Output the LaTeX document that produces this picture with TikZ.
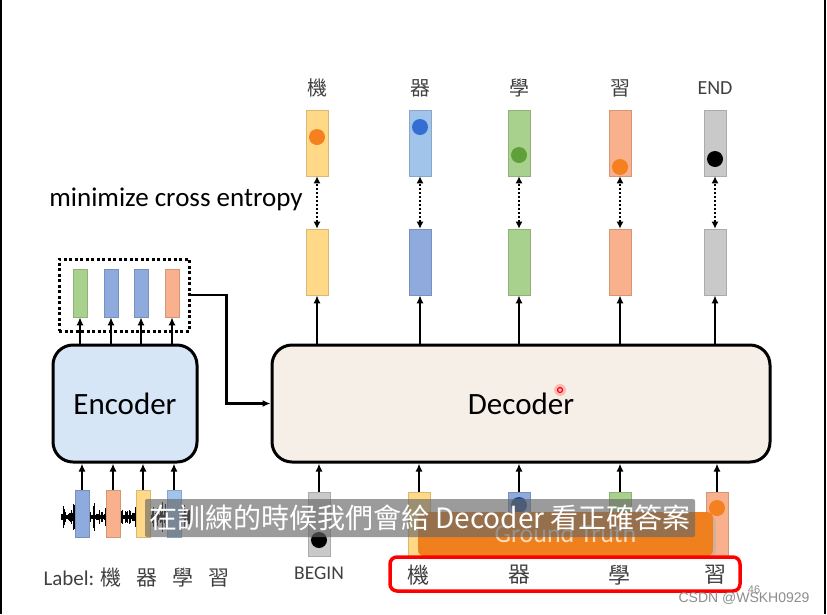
\documentclass[tikz,border=0pt]{standalone}
\usepackage{fontspec}
\setmainfont{Carlito}
\newfontfamily\cjk{Noto Sans CJK TC}
\newfontfamily\wmark{Liberation Sans}
\usetikzlibrary{arrows.meta}
\definecolor{vyellow}{RGB}{255,217,135}
\definecolor{vblue}{RGB}{160,196,234}
\definecolor{vbluemid}{RGB}{143,170,220}
\definecolor{vgreen}{RGB}{169,209,142}
\definecolor{vorange}{RGB}{248,177,140}
\definecolor{vgray}{RGB}{201,201,201}
\definecolor{dorange}{RGB}{244,128,32}
\definecolor{dblue}{RGB}{52,110,210}
\definecolor{dgreen}{RGB}{96,160,58}
\definecolor{encblue}{RGB}{214,230,246}
\definecolor{decbeige}{RGB}{246,239,231}
\definecolor{gtorange}{RGB}{240,128,30}
\definecolor{labgray}{RGB}{64,64,64}
\tikzset{
VEC/.style ={draw=#1!85!black,fill=#1,line width=0.6pt,inner sep=0pt,minimum width=22pt,minimum height=66pt},
SVEC/.style={draw=#1!85!black,fill=#1,line width=0.6pt,inner sep=0pt,minimum width=14pt,minimum height=48pt},
DOT/.style ={circle,fill=#1,inner sep=0pt,minimum size=16pt},
BLOCK/.style={draw=black,line width=3pt,rounded corners=20pt,font=\fontsize{31}{36}\selectfont},
ARROW/.style={line width=2.2pt,-{Latex[length=8pt,width=7pt]}},
XENT/.style={line width=2pt,dash pattern=on 2pt off 2pt,{Latex[length=7pt,width=7pt]}-{Latex[length=7pt,width=7pt]}},
LABEL/.style={text=labgray,font=\cjk\fontsize{20}{24}\selectfont},
WAVE/.style={line width=0.8pt,black},
}
\begin{document}
\begin{tikzpicture}[x=1pt, y=-1pt]
	\useasboundingbox (0,0) rectangle (827,614);
	\draw[line width=2pt] (1,0) -- (1,614) (825,0) -- (825,614);
	\node[BLOCK, fill=encblue, minimum width=144pt, minimum height=117pt] (enc) at (125,403.5) {Encoder};
	\node[BLOCK, fill=decbeige, minimum width=498pt, minimum height=117pt] (dec) at (521,403.5) {Decoder};
	\fill[red!40, opacity=.6] (560,390) circle (6);
	\draw[red, line width=1.2pt] (560,390) circle (2.5);
	% targets and decoder outputs
	\foreach \i/\x/\c/\m/\t/\dc/\dy in {1/317/vyellow/vyellow/{\cjk 機}/dorange/137,
		2/420/vblue/vbluemid/{\cjk 器}/dblue/127,
		3/519/vgreen/vgreen/{\cjk 學}/dgreen/155,
		4/620/vorange/vorange/{\cjk 習}/dorange/167,
		5/715/vgray/vgray/END/black/159} {
		\node[LABEL, font=\fontsize{20}{24}\selectfont] (lab\i) at (\x,88) {\t};
		\node[VEC=\c] (tgt\i) at (\x,143) {};
		\node[DOT=\dc] (dot\i) at (\x,\dy) {};
		\node[VEC=\m] (out\i) at (\x,262) {};
		\draw[XENT] (out\i.north) -- (tgt\i.south);
		\draw[ARROW] (out\i.south |- dec.north) -- (out\i.south);
	}
	\node[font=\fontsize{27}{32}\selectfont] (xent) at (176,199) {minimize cross entropy};
	% encoder side
	\pgfmathsetseed{7}
	\foreach \k in {0,...,160} {
		\pgfmathsetmacro{\h}{1.5+15*rnd*rnd}
		\draw[WAVE] (61+0.8*\k,517-\h) -- (61+0.8*\k,517+\h);
	}
	\foreach \j/\x/\c in {1/82/vbluemid, 2/113/vorange, 3/143/vyellow, 4/174/vblue} {
		\node[SVEC=\c, minimum height=47pt] (in\j) at (\x,513.5) {};
		\draw[ARROW] (in\j.north) -- (in\j.north |- enc.south);
	}
	\foreach \j/\x/\c in {1/80/vgreen, 2/111/vbluemid, 3/141/vbluemid, 4/172/vorange} {
		\node[SVEC=\c] (eo\j) at (\x,293) {};
		\draw[ARROW] (eo\j.south |- enc.north) -- (eo\j.south);
	}
	\node[draw, line width=3pt, dash pattern=on 3pt off 2.5pt, minimum width=130pt, minimum height=72pt] (encout) at (124,295) {};
	\draw[ARROW] (encout.east) -- ++(36,0) |- (dec.west);
	\node[anchor=west, text=labgray, font=\fontsize{21}{24}\selectfont] (label) at (40,578) {Label: {\cjk 機\hspace{15pt}器\hspace{15pt}學\hspace{15pt}習}};
	% decoder inputs
	\foreach \i/\x/\c in {1/319/vgray, 2/419/vyellow, 3/519/vbluemid, 4/620/vgreen, 5/717/vorange} {
		\node[VEC=\c, minimum height=64pt] (din\i) at (\x,524) {};
		\draw[ARROW] (din\i.north) -- (din\i.north |- dec.south);
	}
	\node[DOT=black] (bdot) at (319,540) {};
	\node[DOT=dblue!70!black] (idot3) at (519,505) {};
	\node[DOT=dorange] (idot5) at (717,508) {};
	\node[text=labgray, font=\fontsize{19.5}{22}\selectfont] (begin) at (319,573) {BEGIN};
	\fill[black!30, opacity=.5, rounded corners=6pt] (421,516) rectangle (716,559);
	\node[fill=gtorange, rounded corners=6pt, minimum width=295pt, minimum height=44pt, text=orange!25!white, font=\fontsize{26}{30}\selectfont] (gt) at (565.5,534) {Ground Truth};
	\node[draw=red, line width=3.5pt, rounded corners=7pt, minimum width=350pt, minimum height=34pt] (gtbox) at (565,574) {};
	\foreach \x/\t in {418/機, 519/器, 619/學, 715/習}
		\node[LABEL, font=\cjk\fontsize{22}{26}\selectfont] at (\x,575) {\t};
	% subtitle and watermark
	\node[fill=black!60, fill opacity=.65, text opacity=1, text=white, rounded corners=2pt, minimum width=550pt, minimum height=38pt, inner sep=0pt, font=\cjk\fontsize{28}{32}\selectfont] (sub) at (420,518) {在訓練的時候我們會給 Decoder 看正確答案};
	\node[text=black!45, font=\wmark\fontsize{11}{12}\selectfont] (page) at (754,590) {46};
	\node[anchor=east, text=black!45, font=\wmark\fontsize{14}{16}\selectfont] (csdn) at (813,598) {CSDN @WSKH0929};
\end{tikzpicture}
\end{document}
